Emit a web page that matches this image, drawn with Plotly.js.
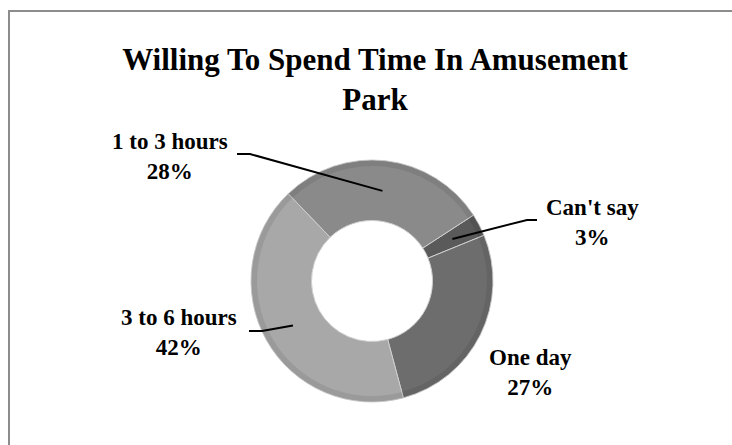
<!DOCTYPE html>
<html>
<head>
<meta charset="utf-8">
<script src="https://cdn.plot.ly/plotly-3.0.1.min.js"></script>
<style>
html,body{margin:0;padding:0;background:#fff;}
#chart{width:732px;height:445px;}
</style>
</head>
<body>
<div id="chart"></div>
<script>
// Data (clockwise, starting at the "Can't say" slice)
var categories = ["Can't say", "One day", "3 to 6 hours", "1 to 3 hours"];
var values = [3, 27, 42, 28];
var percentLabels = ["3%", "27%", "42%", "28%"];
var sliceColors = ["#5a5a5a", "#6d6d6d", "#a8a8a8", "#8a8a8a"];
var titleText = "Willing To Spend Time In Amusement<br>Park";

var W = 732, H = 445;
var cx = 372, cy = 281, R = 121;   // pie centre / radius in pixels
var startDeg = 57;                   // start of first slice, clockwise from 12 o'clock

function dom(r) {
  return {
    x: [(cx - r) / W, (cx + r) / W],
    y: [(H - cy - r) / H, (H - cy + r) / H]
  };
}

var trace = {
  type: 'pie',
  labels: categories,
  values: values,
  sort: false,
  direction: 'clockwise',
  rotation: startDeg,
  hole: 0.5,
  domain: dom(R),
  textinfo: 'none',
  hoverinfo: 'label+percent',
  showlegend: false,
  marker: {colors: sliceColors, line: {color: '#cfcfcf', width: 1}}
};

// subtle darker rim (bevel effect), same slices
var rim = {
  type: 'pie',
  labels: categories,
  values: values,
  sort: false,
  direction: 'clockwise',
  rotation: startDeg,
  hole: 0.95,
  domain: dom(R),
  textinfo: 'none',
  hoverinfo: 'skip',
  showlegend: false,
  marker: {colors: values.map(function () { return 'rgba(0,0,0,0.08)'; }), line: {width: 0}}
};

// Label placement (text blocks) and leader-line elbows, in pixels
var labelPos = [
  {x: 592, y: 222, elbow: [[537, 220], [527, 220]]},
  {x: 530, y: 372, elbow: null},
  {x: 179, y: 332, elbow: [[249, 331], [262, 331]]},
  {x: 170, y: 157, elbow: [[237, 154], [250, 154]]}
];

function px2paper(p) { return [p[0] / W, 1 - p[1] / H]; }

var total = values.reduce(function (a, b) { return a + b; }, 0);
var annotations = [];
var shapes = [];
var acc = 0;
for (var i = 0; i < values.length; i++) {
  var mid = (startDeg + (acc + values[i] / 2) / total * 360) * Math.PI / 180;
  acc += values[i];
  var lp = labelPos[i];
  annotations.push({
    xref: 'paper', yref: 'paper',
    x: lp.x / W, y: 1 - lp.y / H,
    xanchor: 'center', yanchor: 'middle',
    text: categories[i] + '<br>' + percentLabels[i],
    showarrow: false,
    font: {family: 'Liberation Serif', size: 23, color: '#000', weight: 'bold'}
  });
  if (lp.elbow) {
    var rr = 0.75 * R;
    var tip = [cx + rr * Math.sin(mid), cy - rr * Math.cos(mid)];
    var pts = [lp.elbow[0], lp.elbow[1], tip].map(px2paper);
    shapes.push({
      type: 'path', xref: 'paper', yref: 'paper',
      path: 'M' + pts[0][0] + ',' + pts[0][1] + ' L' + pts[1][0] + ',' + pts[1][1] + ' L' + pts[2][0] + ',' + pts[2][1],
      line: {color: '#000', width: 2}
    });
  }
}

// chart frame
shapes.push({
  type: 'rect', xref: 'paper', yref: 'paper',
  x0: 9 / W, x1: 1.05, y0: -0.05, y1: 1 - 11 / H,
  line: {color: '#8c8c8c', width: 2}, fillcolor: 'rgba(0,0,0,0)', layer: 'below'
});

var layout = {
  width: W, height: H,
  margin: {l: 0, r: 0, t: 0, b: 0},
  paper_bgcolor: '#fff',
  title: {
    text: titleText,
    x: 375 / W, xanchor: 'center',
    y: 1 - 70 / H, yanchor: 'top', yref: 'paper',
    font: {family: 'Liberation Serif', size: 31, color: '#000', weight: 'bold'}
  },
  annotations: annotations,
  shapes: shapes
};

Plotly.newPlot('chart', [trace, rim], layout, {displayModeBar: false, staticPlot: true});
</script>
</body>
</html>
